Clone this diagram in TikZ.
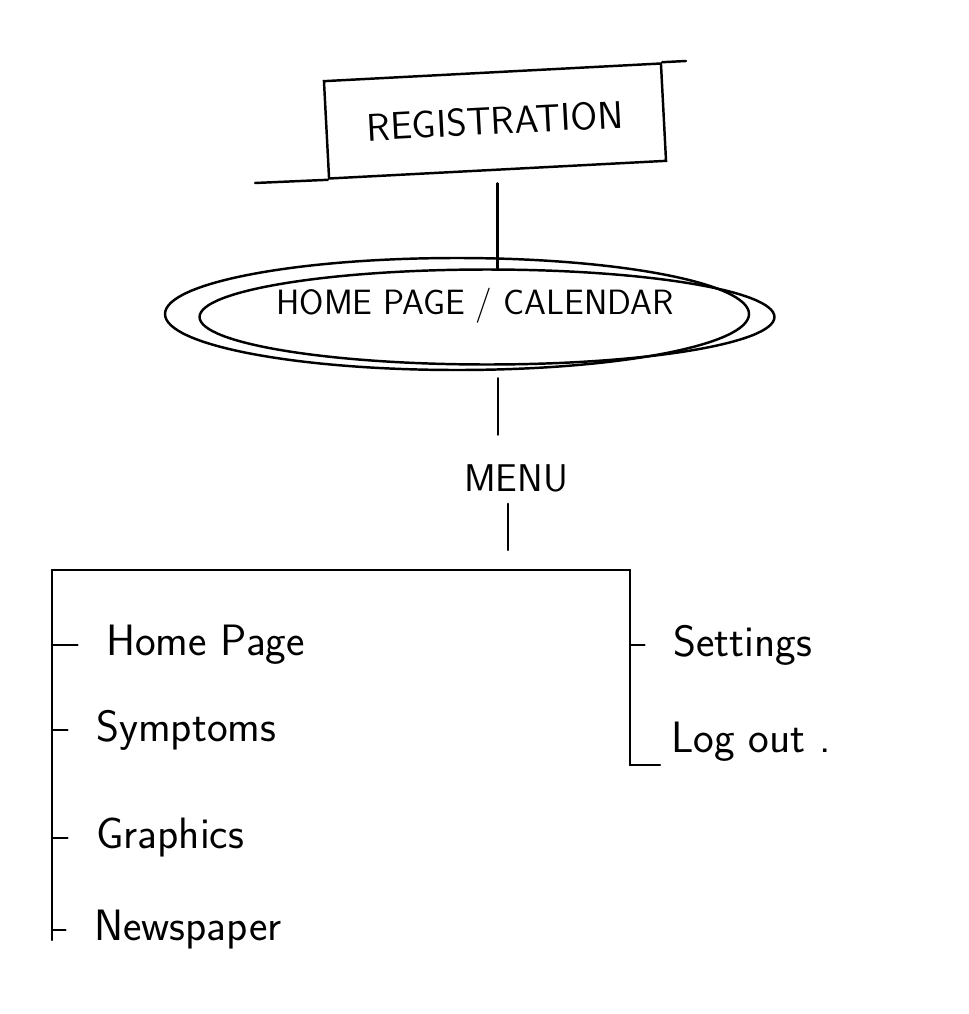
\documentclass[tikz,border=0pt]{standalone}
\usepackage{tikz}
\usetikzlibrary{shapes.geometric}
\tikzstyle{pen}=[line width=1.4pt,line cap=round]
\tikzstyle{caps}=[font=\sffamily\fontsize{22}{26}\selectfont]
\tikzstyle{item}=[anchor=west,inner sep=0pt,font=\sffamily\fontsize{25}{30}\selectfont]
\tikzstyle{tick}=[shorten >=0.55cm]

\begin{document}
\begin{tikzpicture}[x=0.02cm,y=-0.02cm]
\useasboundingbox (0,0) rectangle (968,1014);
\begin{scope}[pen]
    % top of the tree
    \node [draw,caps,rotate=3,minimum width=6.75cm,minimum height=1.95cm] (reg) at (495,121) {REGISTRATION};
    \draw (reg.south west) -- (255,183);
    \draw (reg.north east) -- (686,61);
    \node [draw,ellipse,minimum width=11.5cm,minimum height=1.9cm] (home) at (487,317) {};
    \draw (457,314) ellipse [x radius=292,y radius=56];
    \node [caps,font=\sffamily\fontsize{20}{24}\selectfont] (hometxt) at (475,306) {HOME PAGE / CALENDAR};
    \node [caps] (menu) at (516,478) {MENU};
    \draw [shorten <=0.25cm] (reg.south) -- (reg.south |- home.north);
    \draw [shorten <=0.25cm,shorten >=0.45cm] ([xshift=0.22cm]home.south) -- ([xshift=0.22cm]home.south |- menu.north);
    % menu bar
    \coordinate (barL) at (52,570);
    \coordinate (barR) at (630,570);
    \coordinate (lEnd) at (52,940);
    \coordinate (rEnd) at (630,765);
    \draw [shorten <=0.1cm,shorten >=0.4cm] ([xshift=-0.16cm]menu.south) -- ([xshift=-0.16cm]menu.south |- barL);
    \draw (barL) -- (barR);
    \draw (barL) -- (lEnd);
    \draw (barR) -- (rEnd);
    % entries
    \node [item] (i1) at (105,645) {Home Page};
    \node [item] (i2) at (95,730) {Symptoms};
    \node [item] (i3) at (95,838) {Graphics};
    \node [item] (i4) at (93,930) {Newspaper};
    \node [item] (s1) at (672,645) {Settings};
    \node [item] (s2) at (670,742) {Log out .};
    \foreach \n in {i1,i2,i3,i4}
        \draw [tick] (\n.west -| barL) -- (\n.west);
    \draw [tick] (s1.west -| barR) -- (s1.west);
    \draw [shorten >=0.2cm] (rEnd) -- (rEnd -| s2.west);
\end{scope}
\end{tikzpicture}
\end{document}
